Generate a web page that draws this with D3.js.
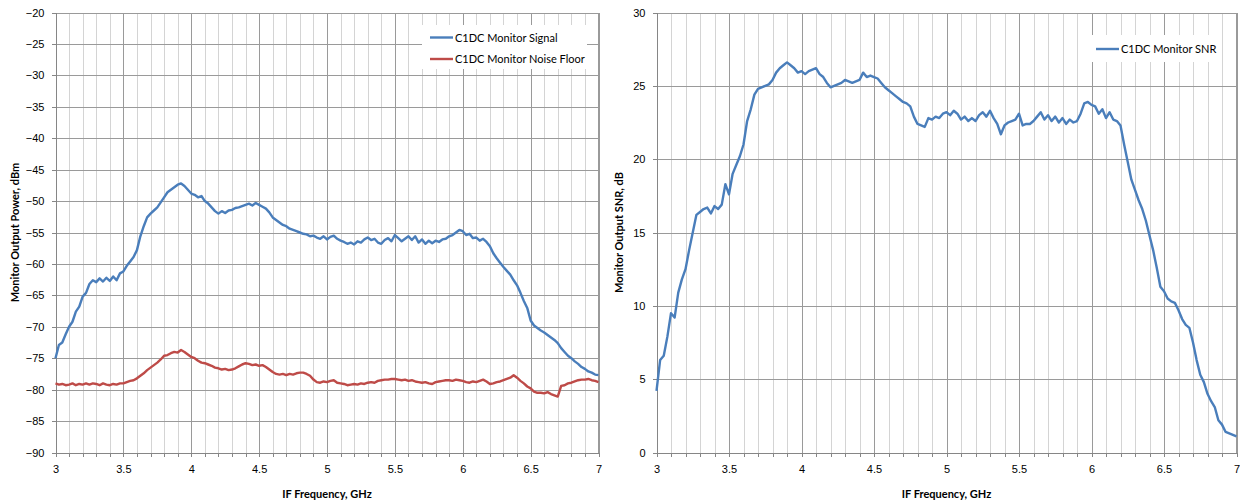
<!DOCTYPE html>
<html>
<head>
<meta charset="utf-8">
<script src="https://cdn.jsdelivr.net/npm/d3@7"></script>
<style>
  body { margin: 0; background: #fff; }
  svg { display: block; font-family: Lato, "Open Sans", sans-serif; }
  .tick text { font-size: 11px; fill: #000; }
</style>
</head>
<body>
<div id="chart-container"></div>
<script>
// Frequency sweep: 3.0 to 7.0 GHz, one sample every 25 MHz
const freqStart = 3.0;
const freqStep = 0.025;

// C1DC monitor signal, dBm
const signalValues = [
  -75.0,-72.9,-72.5,-71.2,-70.0,-69.2,-67.6,-66.8,-65.2,-64.6,
  -63.2,-62.6,-62.9,-62.3,-62.8,-62.2,-62.7,-62.0,-62.6,-61.5,
  -61.2,-60.3,-59.6,-58.9,-57.8,-55.6,-54.0,-52.6,-52.0,-51.5,
  -51.0,-50.2,-49.4,-48.6,-48.2,-47.8,-47.4,-47.2,-47.6,-48.2,
  -48.8,-49.0,-49.4,-49.2,-50.0,-50.4,-51.0,-51.6,-52.0,-51.6,
  -51.9,-51.5,-51.4,-51.1,-51.0,-50.8,-50.6,-50.4,-50.7,-50.3,
  -50.6,-50.9,-51.2,-51.8,-52.6,-53.0,-53.4,-53.8,-54.0,-54.4,
  -54.6,-54.8,-55.0,-55.2,-55.3,-55.6,-55.5,-55.8,-56.0,-55.6,
  -56.1,-55.7,-55.5,-56.0,-56.3,-56.5,-56.8,-56.6,-56.9,-56.4,
  -56.6,-56.1,-55.8,-56.2,-56.0,-56.6,-56.8,-56.2,-55.9,-56.4,
  -55.4,-55.9,-56.4,-56.0,-55.6,-56.2,-55.6,-56.6,-56.1,-56.8,
  -56.3,-56.7,-56.3,-56.5,-56.1,-56.0,-55.6,-55.4,-55.0,-54.6,
  -54.8,-55.4,-55.2,-55.9,-55.8,-56.3,-56.0,-56.5,-57.2,-58.3,
  -59.1,-59.8,-60.5,-61.1,-61.7,-62.6,-63.4,-64.6,-65.9,-67.0,
  -69.0,-69.8,-70.2,-70.6,-70.9,-71.3,-71.7,-72.1,-72.6,-73.4,
  -74.0,-74.6,-75.0,-75.5,-75.9,-76.4,-76.7,-77.1,-77.3,-77.6,
  -77.7
];

// C1DC monitor noise floor, dBm
const noiseValues = [
  -79.0,-79.2,-79.1,-79.3,-79.2,-79.0,-79.3,-79.1,-79.2,-79.0,
  -79.2,-79.0,-79.1,-79.3,-79.0,-79.2,-79.3,-79.1,-79.2,-79.0,
  -79.0,-78.8,-78.6,-78.5,-78.2,-77.8,-77.4,-76.9,-76.5,-76.1,
  -75.7,-75.2,-74.6,-74.5,-74.2,-74.0,-74.1,-73.7,-74.0,-74.4,
  -74.8,-75.0,-75.4,-75.7,-75.8,-76.0,-76.2,-76.5,-76.6,-76.8,
  -76.7,-76.9,-76.8,-76.6,-76.3,-76.0,-75.8,-75.9,-76.1,-76.0,
  -76.2,-76.1,-76.4,-76.8,-77.2,-77.5,-77.6,-77.5,-77.7,-77.5,
  -77.6,-77.4,-77.3,-77.3,-77.5,-77.8,-78.4,-78.8,-78.9,-78.7,
  -78.8,-78.6,-78.5,-78.9,-79.0,-79.1,-79.3,-79.2,-79.1,-79.2,
  -79.0,-79.1,-78.9,-78.8,-78.9,-78.6,-78.5,-78.4,-78.4,-78.3,
  -78.3,-78.4,-78.5,-78.4,-78.6,-78.5,-78.7,-78.8,-78.9,-78.8,
  -79.0,-79.1,-78.8,-78.7,-78.6,-78.5,-78.5,-78.6,-78.4,-78.5,
  -78.6,-78.8,-78.9,-78.7,-78.8,-78.6,-78.4,-78.7,-79.1,-79.0,
  -78.8,-78.7,-78.5,-78.3,-78.1,-77.7,-78.1,-78.6,-79.0,-79.5,
  -79.8,-80.3,-80.5,-80.5,-80.6,-80.4,-80.7,-80.9,-81.1,-79.4,
  -79.3,-79.0,-78.9,-78.7,-78.5,-78.4,-78.4,-78.3,-78.5,-78.6,
  -78.8
];

// C1DC monitor SNR, dB
const snrValues = [
  4.2,6.3,6.6,7.9,9.5,9.2,10.9,11.8,12.5,13.8,
  15.0,16.2,16.4,16.6,16.7,16.3,16.8,16.6,16.9,18.3,
  17.6,19.0,19.6,20.2,21.0,22.6,23.4,24.4,24.8,24.9,
  25.0,25.1,25.4,25.9,26.2,26.4,26.6,26.4,26.2,25.9,
  26.0,25.8,26.0,26.1,26.2,25.8,25.6,25.2,24.9,25.0,
  25.1,25.2,25.4,25.3,25.2,25.3,25.4,25.9,25.6,25.7,
  25.6,25.5,25.2,24.9,24.7,24.5,24.3,24.1,23.9,23.8,
  23.6,22.9,22.4,22.3,22.2,22.8,22.7,22.9,22.8,23.1,
  23.2,23.0,23.3,23.1,22.7,22.9,22.6,22.8,22.6,23.0,
  23.2,22.9,23.3,22.8,22.4,21.7,22.3,22.5,22.6,22.7,
  23.1,22.3,22.4,22.4,22.6,22.9,23.2,22.7,23.0,22.6,
  22.9,22.5,22.8,22.4,22.7,22.5,22.6,23.1,23.8,23.9,
  23.7,23.6,23.1,23.4,22.8,23.2,22.7,22.6,22.3,21.0,
  19.8,18.6,17.9,17.2,16.6,15.8,14.8,13.8,12.6,11.3,
  11.0,10.5,10.3,10.2,9.7,9.1,8.7,8.5,7.5,6.3,
  5.3,4.8,4.0,3.5,3.1,2.2,1.9,1.4,1.3,1.2,
  1.1
];

// Tick labels
const xMajorTicks = [3, 3.5, 4, 4.5, 5, 5.5, 6, 6.5, 7];
const xMinorTicks = [3, 3.1, 3.2, 3.3, 3.4, 3.5, 3.6, 3.7, 3.8, 3.9, 4, 4.1, 4.2, 4.3, 4.4, 4.5,
  4.6, 4.7, 4.8, 4.9, 5, 5.1, 5.2, 5.3, 5.4, 5.5, 5.6, 5.7, 5.8, 5.9, 6, 6.1, 6.2, 6.3, 6.4,
  6.5, 6.6, 6.7, 6.8, 6.9, 7];
const powerTicks = [-90, -85, -80, -75, -70, -65, -60, -55, -50, -45, -40, -35, -30, -25, -20];
const snrTicks = [0, 5, 10, 15, 20, 25, 30];

const blue = "#4A7EBB";
const red = "#BE4B48";

const svg = d3.select("#chart-container")
    .append("svg")
    .attr("width", 1240)
    .attr("height", 504);

const toPoints = vals => vals.map((v, i) => ({ f: freqStart + i * freqStep, v: v }));

// Draw one chart panel
function drawPanel(cfg) {
    const g = svg.append("g");
    const x = d3.scaleLinear().domain([3, 7]).range([cfg.left, cfg.right]);
    const y = d3.scaleLinear().domain(cfg.yDomain).range([cfg.bottom, cfg.top]);
    const h = cfg.bottom - cfg.top;
    const w = cfg.right - cfg.left;

    // minor vertical grid
    g.append("g")
        .attr("transform", "translate(0," + cfg.bottom + ")")
        .call(d3.axisBottom(x).tickValues(xMinorTicks).tickSize(-h).tickFormat(""))
        .call(a => a.select(".domain").remove())
        .selectAll("line").attr("stroke", "#d4d4d4").attr("shape-rendering", "crispEdges");

    // major vertical grid
    g.append("g")
        .attr("transform", "translate(0," + cfg.bottom + ")")
        .call(d3.axisBottom(x).tickValues(xMajorTicks).tickSize(-h).tickFormat(""))
        .call(a => a.select(".domain").remove())
        .selectAll("line").attr("stroke", "#9a9a9a").attr("shape-rendering", "crispEdges");

    // horizontal grid
    g.append("g")
        .attr("transform", "translate(" + cfg.left + ",0)")
        .call(d3.axisLeft(y).tickValues(cfg.yTicks).tickSize(-w).tickFormat(""))
        .call(a => a.select(".domain").remove())
        .selectAll("line").attr("stroke", "#9a9a9a").attr("shape-rendering", "crispEdges");

    // x axis minor tick marks
    g.append("g")
        .attr("transform", "translate(0," + cfg.bottom + ")")
        .call(d3.axisBottom(x).tickValues(xMinorTicks).tickSizeInner(4).tickSizeOuter(0).tickFormat(""))
        .call(a => a.select(".domain").attr("stroke", "#868686").attr("shape-rendering", "crispEdges"))
        .selectAll("line").attr("stroke", "#868686").attr("shape-rendering", "crispEdges");

    // x axis labels
    g.append("g")
        .attr("transform", "translate(0," + cfg.bottom + ")")
        .call(d3.axisBottom(x).tickValues(xMajorTicks).tickSize(0).tickPadding(13).tickFormat(d3.format("~g")))
        .call(a => a.select(".domain").remove());

    // y axis
    g.append("g")
        .attr("transform", "translate(" + cfg.left + ",0)")
        .call(d3.axisLeft(y).tickValues(cfg.yTicks).tickSizeInner(4).tickSizeOuter(0).tickPadding(7))
        .call(a => a.select(".domain").attr("stroke", "#868686").attr("shape-rendering", "crispEdges"))
        .call(a => a.selectAll("line").attr("stroke", "#868686").attr("shape-rendering", "crispEdges"));

    // right border
    g.append("line")
        .attr("x1", cfg.right).attr("x2", cfg.right)
        .attr("y1", cfg.top).attr("y2", cfg.bottom)
        .attr("stroke", "#9a9a9a").attr("shape-rendering", "crispEdges");

    // data lines
    const line = d3.line().x(d => x(d.f)).y(d => y(d.v));
    cfg.series.forEach(s => {
        g.append("path")
            .datum(toPoints(s.values))
            .attr("fill", "none")
            .attr("stroke", s.color)
            .attr("stroke-width", 2.4)
            .attr("stroke-linejoin", "round")
            .attr("d", line);
    });

    // legend
    const lg = cfg.legend;
    g.append("rect")
        .attr("x", lg.x).attr("y", lg.y)
        .attr("width", lg.w).attr("height", lg.h)
        .attr("fill", "#fff");
    cfg.series.forEach((s, i) => {
        const ly = lg.y + lg.first + i * 21.5;
        g.append("line")
            .attr("x1", lg.x + lg.pad).attr("x2", lg.x + lg.pad + 23)
            .attr("y1", ly).attr("y2", ly)
            .attr("stroke", s.color).attr("stroke-width", 2.4);
        g.append("text")
            .attr("x", lg.x + lg.pad + 25).attr("y", ly + 4)
            .attr("font-size", "11px")
            .text(s.name);
    });

    // axis titles
    g.append("text")
        .attr("x", (cfg.left + cfg.right) / 2)
        .attr("y", 498)
        .attr("text-anchor", "middle")
        .attr("font-size", "11px")
        .attr("font-weight", "bold")
        .text("IF Frequency, GHz");

    g.append("text")
        .attr("transform", "translate(" + cfg.titleX + "," + (cfg.top + cfg.bottom) / 2 + ") rotate(-90)")
        .attr("text-anchor", "middle")
        .attr("font-size", "11px")
        .attr("font-weight", "bold")
        .text(cfg.yTitle);
}

drawPanel({
    left: 55.5, right: 598.5, top: 12.5, bottom: 452.5,
    yDomain: [-90, -20], yTicks: powerTicks,
    yTitle: "Monitor Output Power, dBm", titleX: 19,
    series: [
        { name: "C1DC Monitor Signal", values: signalValues, color: blue },
        { name: "C1DC Monitor Noise Floor", values: noiseValues, color: red }
    ],
    legend: { x: 422, y: 25, w: 165, h: 44, pad: 8, first: 12.5 }
});

drawPanel({
    left: 656.5, right: 1236.5, top: 12.5, bottom: 452.5,
    yDomain: [0, 30], yTicks: snrTicks,
    yTitle: "Monitor Output SNR, dB", titleX: 623,
    series: [
        { name: "C1DC Monitor SNR", values: snrValues, color: blue }
    ],
    legend: { x: 1092, y: 35, w: 120, h: 27, pad: 4, first: 14 }
});
</script>
</body>
</html>
